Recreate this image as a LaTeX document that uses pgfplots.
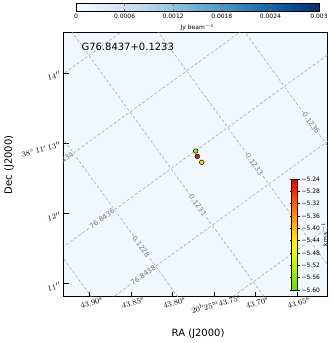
\documentclass[border=0pt]{standalone}
\usepackage{pgfplots}
\pgfplotsset{compat=1.18}
\usepackage{fontspec}
\setsansfont{DejaVu Sans}
\usetikzlibrary{calc}
\definecolor{MapBg}{RGB}{241,247,253}
\definecolor{GridGray}{RGB}{160,160,160}
\definecolor{GridText}{RGB}{120,120,120}
\pgfplotsset{
  colormap={blues}{rgb255=(247,251,255) rgb255=(222,235,247) rgb255=(198,219,239) rgb255=(158,202,225) rgb255=(107,174,214) rgb255=(66,146,198) rgb255=(33,113,181) rgb255=(8,81,156) rgb255=(8,48,107)},
  colormap={vel}{rgb255=(96,222,0) rgb255=(190,240,0) rgb255=(255,255,0) rgb255=(255,175,0) rgb255=(255,90,0) rgb255=(225,0,0)},
  gridline/.style={draw=GridGray, line width=0.5pt, dash pattern=on 3pt off 2pt},
}
\tikzset{
  glabel/.style={font=\sffamily\fontsize{7}{8}\selectfont, text=GridText, fill=MapBg, inner sep=0.6pt},
}

\begin{document}
\begin{tikzpicture}
\path[use as bounding box] (-64pt,-46pt) rectangle (269pt,297pt);

% flux scale bar on top
\begin{axis}[
    at={(12pt,294.5pt)}, anchor=south west,
    hide axis, scale only axis,
    width=243pt, height=8pt,
    xmin=0, xmax=1, ymin=0, ymax=1,
    colormap name=blues,
    point meta min=0, point meta max=0.003,
    colorbar horizontal,
    colorbar style={
        at={(parent axis.south west)}, anchor=south west,
        width=243pt, height=8pt,
        scaled x ticks=false,
        xtick={0,0.0006,0.0012,0.0018,0.0024,0.003},
        xticklabels={0,0.0006,0.0012,0.0018,0.0024,0.003},
        xticklabel pos=lower,
        xtick pos=both,
        xtick align=inside,
        major tick length=2.5pt,
        tick style={black!55, line width=0.4pt},
        axis line style={black, line width=0.7pt},
        xticklabel style={font=\sffamily\fontsize{6}{7}\selectfont, yshift=1pt},
        xlabel={\sffamily Jy beam$^{-1}$},
        xlabel style={at={(axis description cs:0.5,-2.05)}, anchor=center, font=\sffamily\fontsize{6}{7}\selectfont},
    },
]
\addplot[draw=none] coordinates {(0,0)};
\end{axis}

\begin{axis}[
    name=main,
    at={(0pt,0pt)}, anchor=south west,
    scale only axis,
    width=264pt, height=264pt,
    x dir=reverse,
    xmin=43.6126, xmax=43.9314,
    ymin=10.815, ymax=14.569,
    axis background/.style={fill=MapBg},
    axis line style={black, line width=1pt},
    xtick={43.65,43.70,43.75,43.80,43.85,43.90},
    xticklabels={$43.65^{\mathrm{s}}$, $43.70^{\mathrm{s}}$, $20^{\mathrm{h}}25^{\mathrm{m}}43.75^{\mathrm{s}}$, $43.80^{\mathrm{s}}$, $43.85^{\mathrm{s}}$, $43.90^{\mathrm{s}}$},
    ytick={11,12,13,14},
    yticklabels={$11^{\prime\prime}$, $12^{\prime\prime}$, $38^{\circ}\,11^{\prime}\,13^{\prime\prime}$, $14^{\prime\prime}$},
    xtick pos=lower, ytick pos=left,
    tick align=inside,
    major tick length=5pt,
    tick style={black, line width=1pt},
    xticklabel style={rotate=15, anchor=north, font=\fontsize{8}{9}\selectfont},
    yticklabel style={rotate=15, anchor=east, font=\fontsize{8}{9}\selectfont},
    xlabel={RA (J2000)},
    ylabel={Dec (J2000)},
    xlabel style={at={(axis description cs:0.508,-0.14)}, anchor=center, font=\sffamily\fontsize{10}{12}\selectfont},
    ylabel style={at={(axis description cs:-0.208,0.5)}, anchor=center, font=\sffamily\fontsize{10}{12}\selectfont},
    colormap name=vel,
    point meta min=-5.60, point meta max=-5.24,
    colorbar,
    colorbar style={
        at={($(parent axis.south west)+(219pt,7pt)$)}, anchor=south west,
        width=6pt, height=111pt,
        ytick={-5.60,-5.56,-5.52,-5.48,-5.44,-5.40,-5.36,-5.32,-5.28,-5.24},
        yticklabels={−5.60,−5.56,−5.52,−5.48,−5.44,−5.40,−5.36,−5.32,−5.28,−5.24},
        yticklabel pos=right,
        ytick align=outside,
        major tick length=2pt,
        tick style={black, line width=0.4pt},
        axis line style={black, line width=0.8pt},
        yticklabel style={font=\sffamily\fontsize{6}{7}\selectfont, xshift=-1.5pt},
        ylabel={\sffamily km s$^{-1}$},
        ylabel style={at={(axis description cs:5.5,0.5)}, anchor=center, font=\sffamily\fontsize{6}{7}\selectfont},
    },
]

% galactic latitude lines (constant b)
\addplot[gridline] coordinates {(44.137319,14.69103) (43.740215,8.25279)};
\addplot[gridline] coordinates {(44.068962,15.27542) (43.671858,8.83718)};
\addplot[gridline] coordinates {(44.000605,15.85981) (43.603501,9.42157)};
\addplot[gridline] coordinates {(43.932248,16.44420) (43.535144,10.00596)};
\addplot[gridline] coordinates {(43.863891,17.02859) (43.466787,10.59035)};

% galactic longitude lines (constant l)
\addplot[gridline] coordinates {(44.174757,11.91269) (43.627901,16.58781)};
\addplot[gridline] coordinates {(44.125119,11.10791) (43.578263,15.78303)};
\addplot[gridline] coordinates {(44.075481,10.30313) (43.528625,14.97825)};
\addplot[gridline] coordinates {(44.025843,9.49835) (43.478987,14.17347)};
\addplot[gridline] coordinates {(43.976205,8.69357) (43.429349,13.36869)};

\node[glabel, rotate=-54] at (axis cs:43.838145,11.53319) {0.1228};
\node[glabel, rotate=-54] at (axis cs:43.769788,12.11758) {0.1231};
\node[glabel, rotate=-54] at (axis cs:43.701431,12.70197) {0.1233};
\node[glabel, rotate=-54] at (axis cs:43.633074,13.28636) {0.1236};
\node[glabel, rotate=36] at (axis cs:43.935087,12.73251) {76.8434};
\node[glabel, rotate=36] at (axis cs:43.885449,11.92773) {76.8436};
\node[glabel, rotate=36] at (axis cs:43.835811,11.12295) {76.8438};

\node[anchor=west, font=\sffamily\fontsize{10}{12}\selectfont] at (rel axis cs:0.053,0.947) {G76.8437+0.1233};

\addplot[
    scatter, only marks, mark=*, mark size=2.3pt,
    point meta=explicit,
    scatter/use mapped color={draw=black, fill=mapped color},
    mark options={line width=0.5pt},
] coordinates {
    (43.77234,12.89094) [-5.55]
    (43.76510,12.73027) [-5.42]
    (43.77041,12.81558) [-5.26]
};

\end{axis}
\end{tikzpicture}
\end{document}
